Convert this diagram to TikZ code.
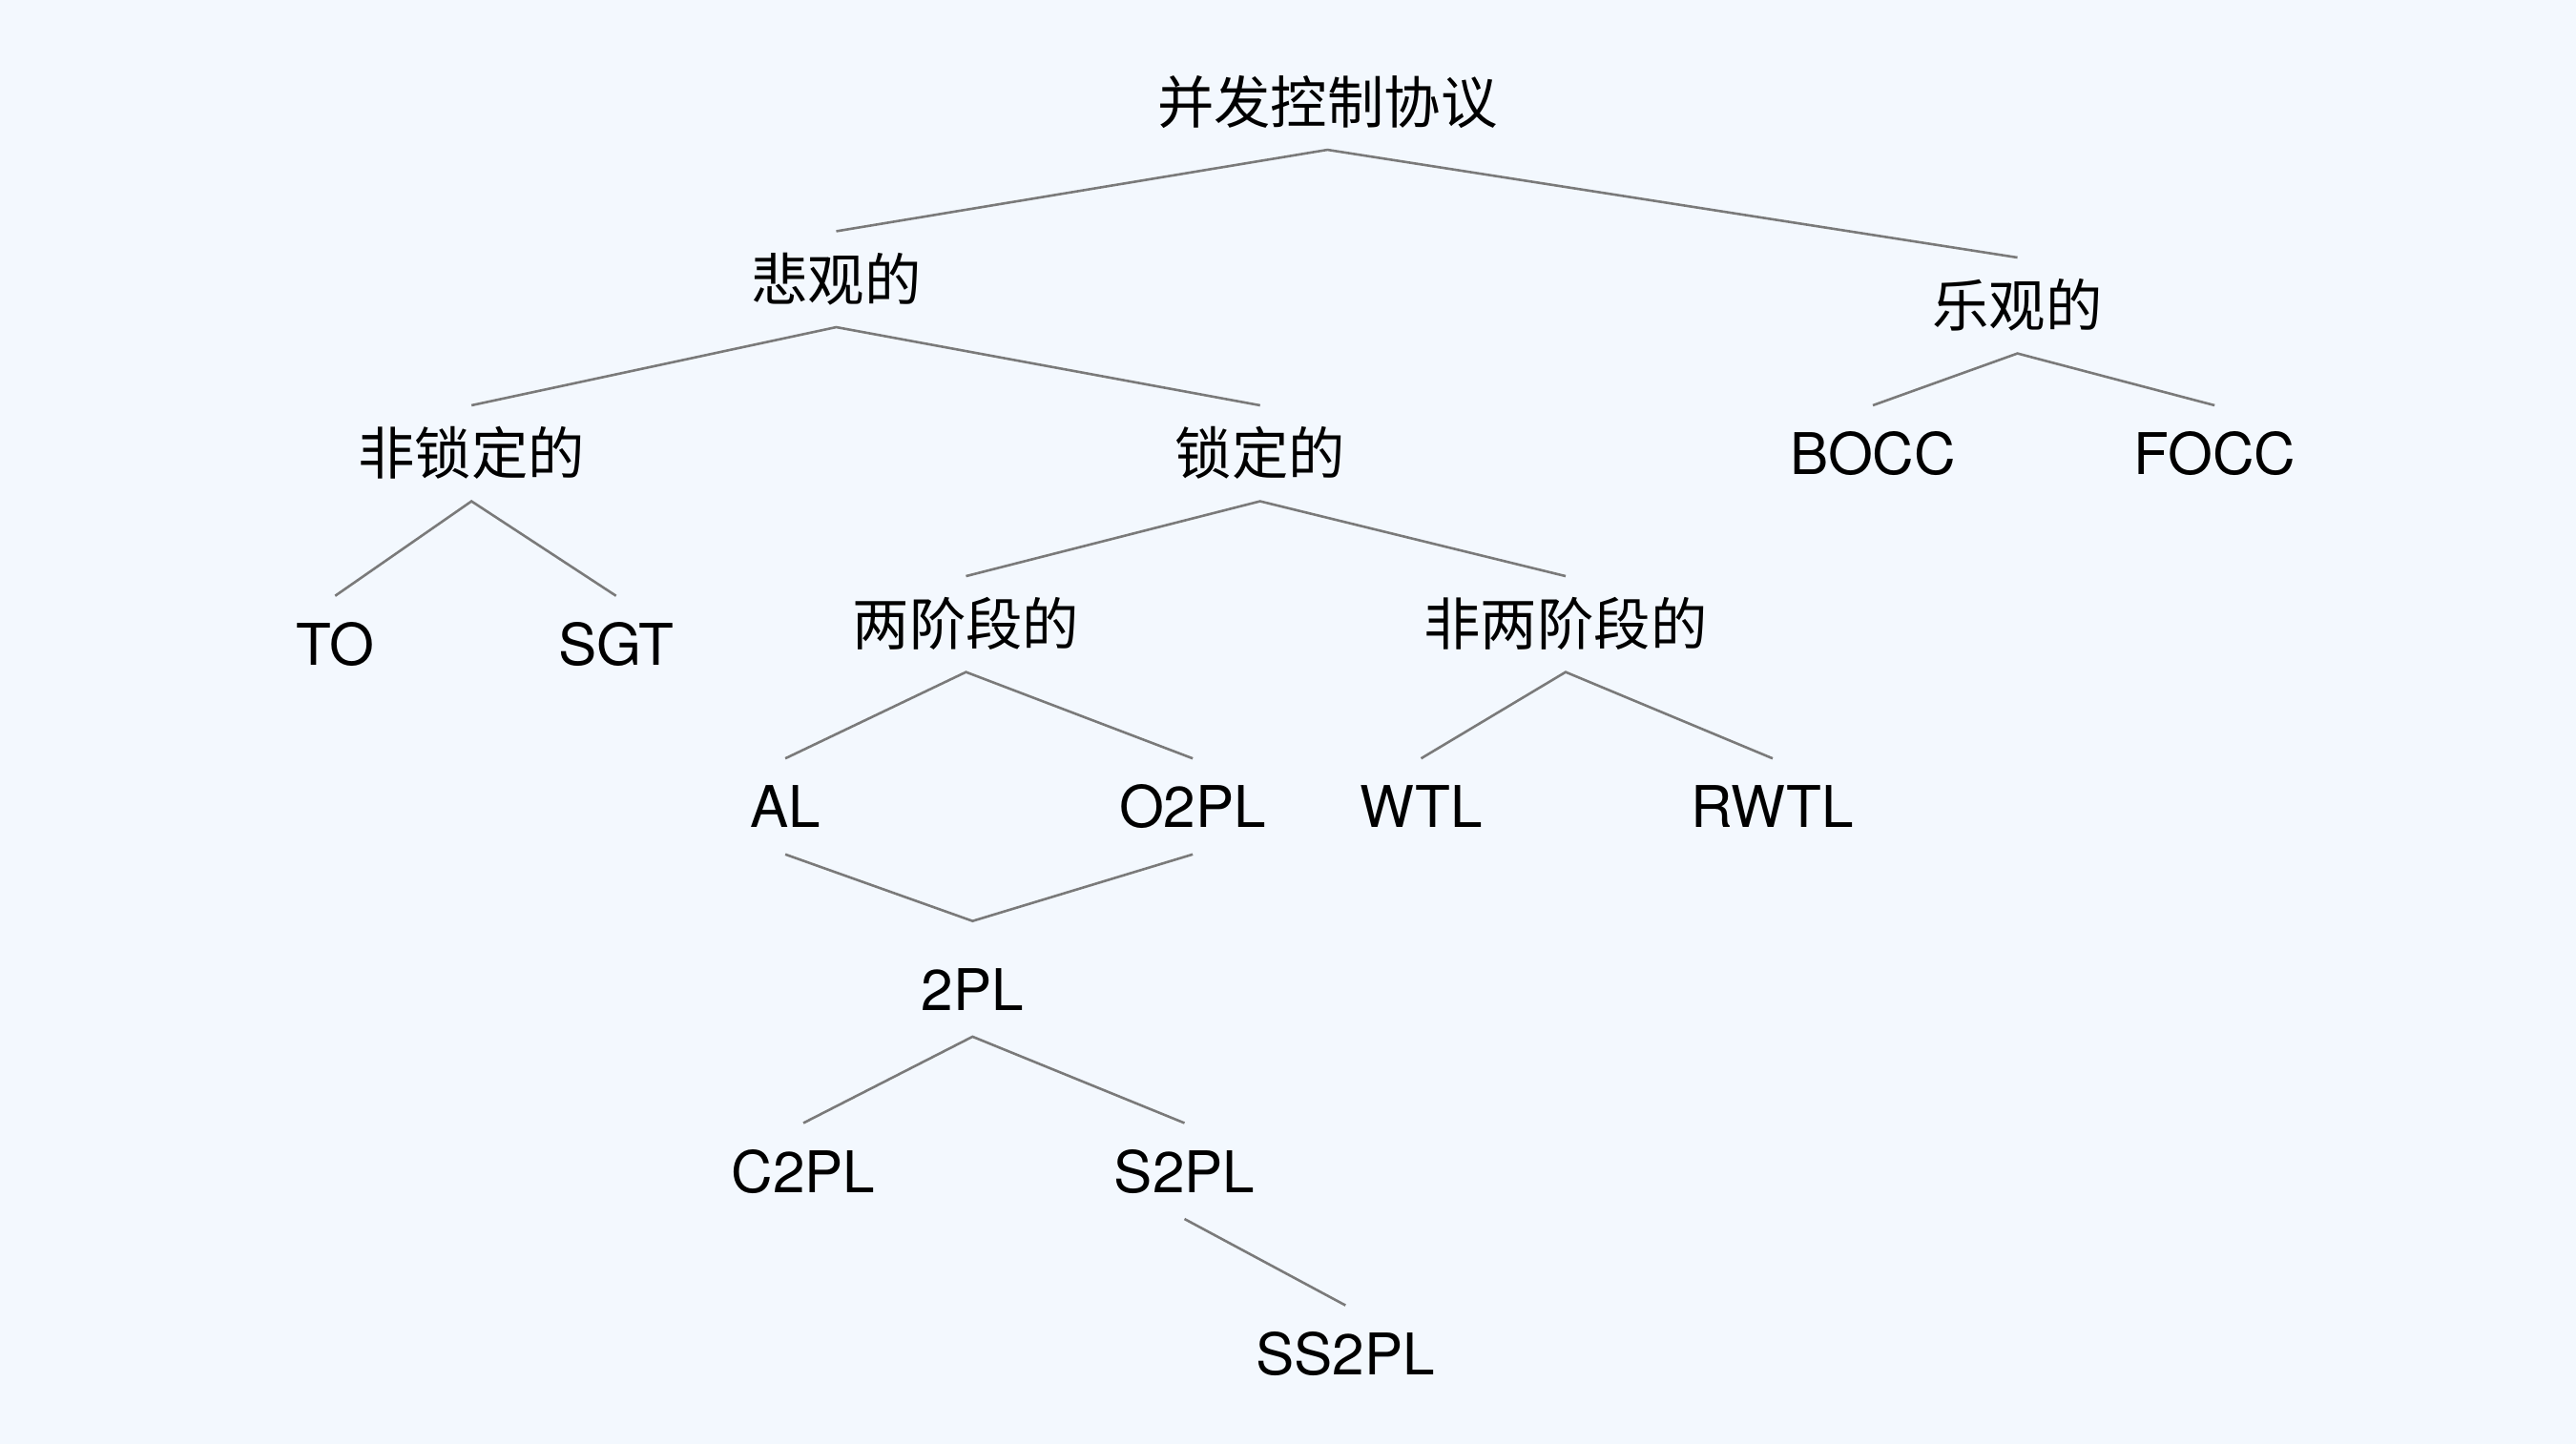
\documentclass[tikz,border=0pt]{standalone}
\usepackage{fontspec}
\setmainfont{TeX Gyre Heros}
\newfontfamily\cjk{Noto Sans CJK SC}
\usetikzlibrary{calc}
\definecolor{bgcol}{HTML}{F3F8FE}
\definecolor{linecol}{HTML}{7A7A7A}
\begin{document}
\begin{tikzpicture}[x=1pt,y=-1pt,
  lbl/.style={inner sep=0pt,text height=42pt,text depth=16pt,font=\fontsize{35}{42}\selectfont},
  zh/.style={lbl,font=\fontsize{34.5}{42}\selectfont\cjk},
  conn/.style={draw=linecol,line width=1.5pt}]
\fill[bgcol] (0,0) rectangle (1568,879.2);
\useasboundingbox (0,0) rectangle (1568,879.2);
% nodes
\node[zh] (root) at (808,62) {并发控制协议};
\node[zh] (pes) at (509,170) {悲观的};
\node[zh] (opt) at (1228,186) {乐观的};
\node[zh] (nlock) at (287,276) {非锁定的};
\node[zh] (lock) at (767,276) {锁定的};
\node[lbl] (bocc) at (1140,276) {BOCC};
\node[lbl] (focc) at (1348,276) {FOCC};
\node[lbl] (to) at (204,392) {TO};
\node[lbl] (sgt) at (375,392) {SGT};
\node[zh] (tp) at (588,380) {两阶段的};
\node[zh] (ntp) at (953,380) {非两阶段的};
\node[lbl] (al) at (478,491) {AL};
\node[lbl] (o2pl) at (726,491) {O2PL};
\node[lbl] (wtl) at (865,491) {WTL};
\node[lbl] (rwtl) at (1079,491) {RWTL};
\node[lbl] (twopl) at (592,602) {2PL};
\node[lbl] (c2pl) at (489,713) {C2PL};
\node[lbl] (s2pl) at (721,713) {S2PL};
\node[lbl] (ss2pl) at (819,824) {SS2PL};
\coordinate (join) at ($(twopl.north)+(0,-12)$);
% connectors
\draw[conn] (pes.north) -- (root.south) -- (opt.north);
\draw[conn] (nlock.north) -- (pes.south) -- (lock.north);
\draw[conn] (bocc.north) -- (opt.south) -- (focc.north);
\draw[conn] (to.north) -- (nlock.south) -- (sgt.north);
\draw[conn] (tp.north) -- (lock.south) -- (ntp.north);
\draw[conn] (al.north) -- (tp.south) -- (o2pl.north);
\draw[conn] (wtl.north) -- (ntp.south) -- (rwtl.north);
\draw[conn] (al.south) -- (join) -- (o2pl.south);
\draw[conn] (c2pl.north) -- (twopl.south) -- (s2pl.north);
\draw[conn] (s2pl.south) -- (ss2pl.north);
\end{tikzpicture}
\end{document}
